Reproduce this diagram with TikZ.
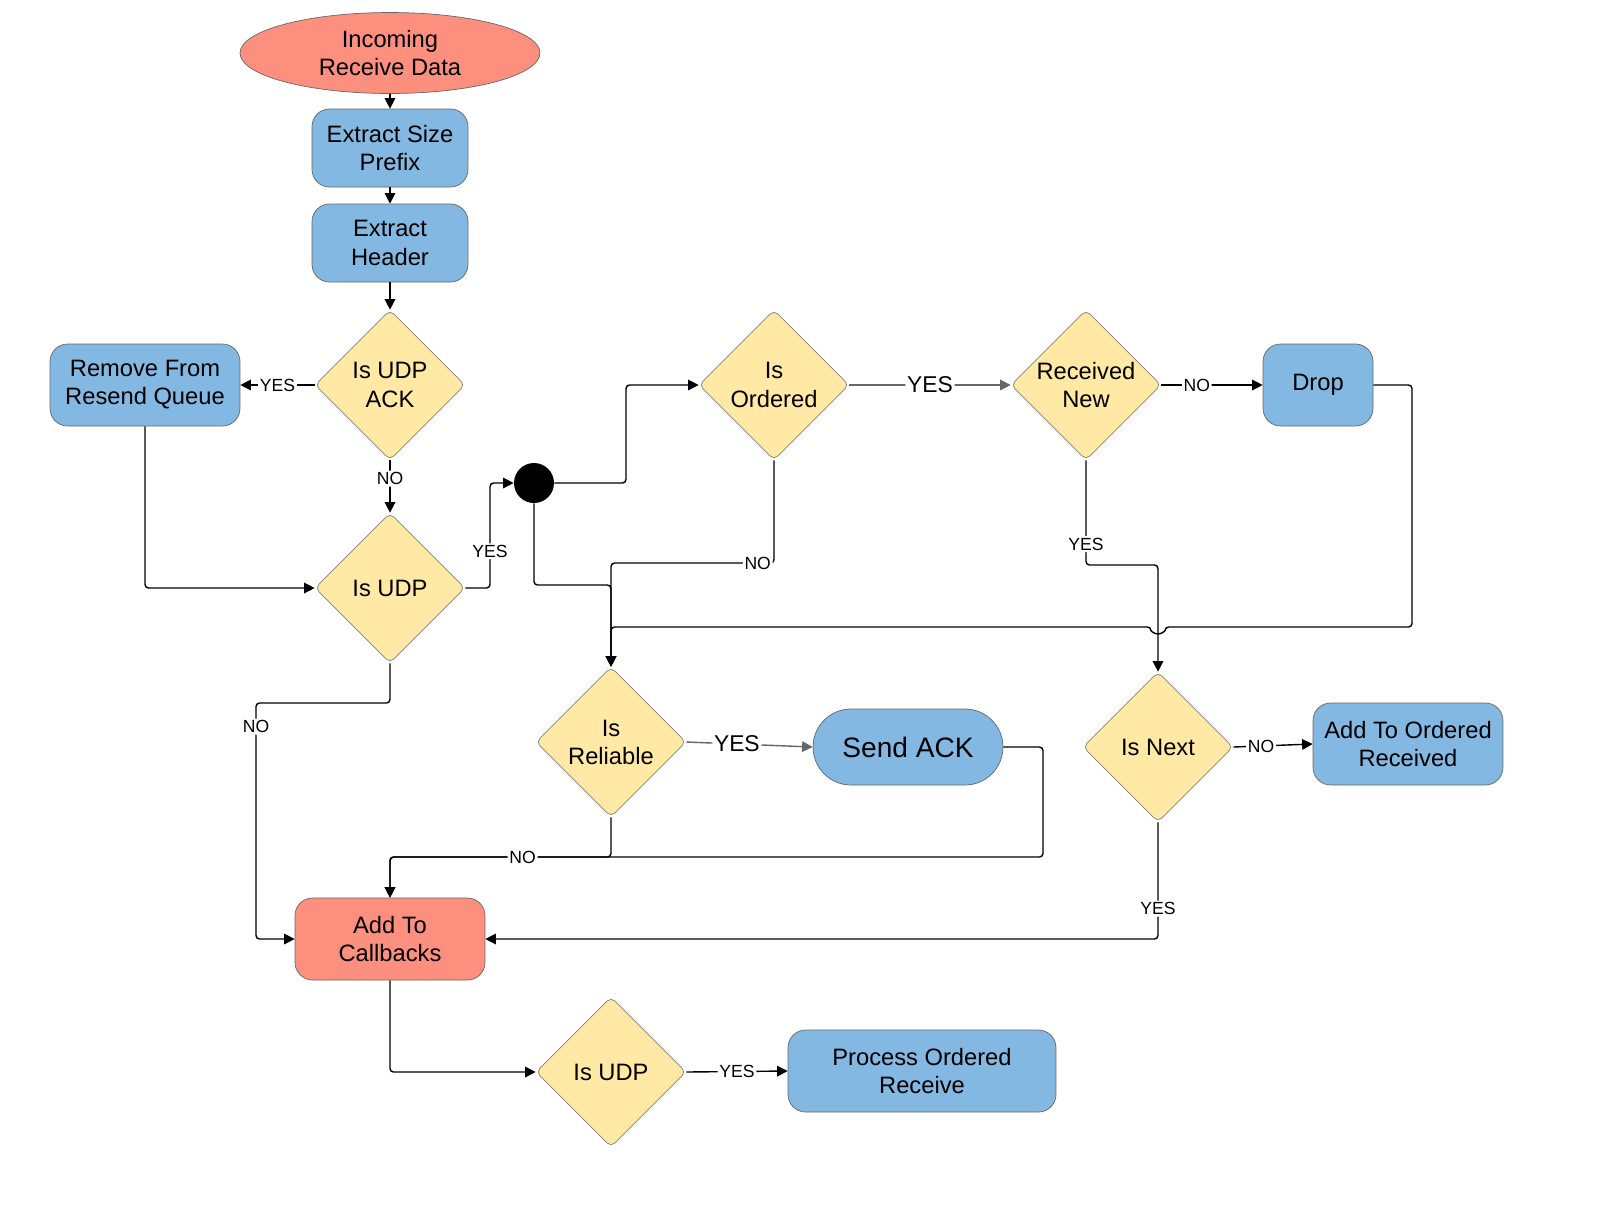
\documentclass[tikz,border=0pt]{standalone}
\usepackage{fontspec}
\setmainfont{Liberation Sans}
\usetikzlibrary{shapes.geometric, arrows.meta}
\definecolor{salmon}{HTML}{FC8F7E}
\definecolor{boxblue}{HTML}{83B8E2}
\definecolor{decyellow}{HTML}{FFE9A5}
\tikzset{
  proc/.style={rectangle, rounded corners=10pt, draw=black!60, fill=boxblue, align=center, font=\fontsize{13.5}{16}\selectfont, minimum height=1.64cm},
  term/.style={ellipse, draw=black!60, fill=salmon, align=center, font=\fontsize{13.5}{16}\selectfont},
  check/.style={diamond, rounded corners=3pt, draw=black!50, fill=decyellow, align=center, minimum width=3cm, minimum height=3cm, inner sep=0pt, font=\fontsize{13.5}{16}\selectfont},
  flow/.style={draw, thick, rounded corners=2pt, -{Triangle[length=6pt,width=6pt]}},
  lbl/.style={fill=white, inner sep=1pt, font=\fontsize{10}{12}\selectfont},
  biglbl/.style={fill=white, inner sep=1pt, font=\fontsize{13}{15}\selectfont}
}
\begin{document}
\begin{tikzpicture}[x=0.02cm, y=-0.02cm]
  \useasboundingbox (0,0) rectangle (1606,1208);
  % nodes
  \node[term, minimum width=6cm, minimum height=1.56cm] (start) at (390,53) {Incoming\\Receive Data};
  \node[proc, minimum width=3.12cm, minimum height=1.56cm] (size) at (390,148) {Extract Size\\Prefix};
  \node[proc, minimum width=3.12cm, minimum height=1.56cm] (header) at (390,243) {Extract\\Header};
  \node[check] (udpack) at (390,385) {Is UDP\\ACK};
  \node[proc, minimum width=3.8cm] (resend) at (145,385) {Remove From\\Resend Queue};
  \node[check] (udp) at (390,588) {Is UDP};
  \node[circle, fill=black, minimum size=0.8cm, inner sep=0pt] (junc) at (534,483) {};
  \node[check] (ordered) at (774,385) {Is\\Ordered};
  \node[check] (recvnew) at (1086,385) {Received\\New};
  \node[proc, minimum width=2.2cm] (drop) at (1318,385) {Drop};
  \node[check] (reliable) at (611,742) {Is\\Reliable};
  \node[proc, rounded corners=0.76cm, minimum width=3.8cm, minimum height=1.52cm, font=\fontsize{16}{18}\selectfont] (ack) at (908,747) {Send ACK};
  \node[check] (next) at (1158,747) {Is Next};
  \node[proc, minimum width=3.8cm] (addord) at (1408,744) {Add To Ordered\\Received};
  \node[proc, fill=salmon, minimum width=3.8cm] (callbacks) at (390,939) {Add To\\Callbacks};
  \node[check] (udp2) at (611,1072) {Is UDP};
  \node[proc, minimum width=5.36cm] (process) at (922,1071) {Process Ordered\\Receive};
  % connectors
  \draw[flow] (start) -- (size);
  \draw[flow] (size) -- (header);
  \draw[flow] (header) -- (udpack);
  \draw[flow] (udpack) -- node[lbl] {YES} (resend);
  \draw[flow] (udpack) -- node[lbl, pos=0.35] {NO} (udp);
  \draw[flow] (resend.south) |- (udp.west);
  \draw[flow] (udp.east) -- (490,588) -- node[lbl, pos=0.35] {YES} (490,483) -- (junc.west);
  \draw[flow] (junc.east) -- (626,483) -- (626,385) -- (ordered.west);
  \draw[flow, draw=black!60] (ordered.east) -- node[biglbl, pos=0.5] {YES} (recvnew.west);
  \draw[flow] (recvnew.east) -- node[lbl, pos=0.35] {NO} (drop.west);
  \draw[flow] (recvnew.south) -- node[lbl, pos=0.8] {YES} (1086,565) -- (1158,565) -- (next.north);
  \draw[flow] (drop.east) -- (1412,385) -- (1412,627) -- (1165,627) arc[start angle=0, end angle=180, radius=7] -- (611,627) -- (reliable.north);
  \draw[flow] (ordered.south) -- (774,563) -- node[lbl, pos=0.1] {NO} (611,563) -- (reliable.north);
  \draw[flow] (junc.south) -- (534,585) -- (611,585) -- (reliable.north);
  \draw[flow, draw=black!60] (reliable.east) -- node[biglbl, pos=0.4] {YES} (ack.west);
  \draw[flow] (ack.east) -- (1043,747) -- (1043,857) -- (390,857) -- (callbacks.north);
  \draw[flow] (reliable.south) -- (611,857) -- node[lbl, pos=0.4] {NO} (390,857) -- (callbacks.north);
  \draw[flow] (udp.south) -- (390,703) -- (256,703) -- node[lbl, pos=0.1] {NO} (256,939) -- (callbacks.west);
  \draw[flow] (next.east) -- node[lbl, pos=0.35] {NO} (addord.west);
  \draw[flow] (next.south) -- node[lbl, pos=0.74] {YES} (1158,939) -- (callbacks.east);
  \draw[flow] (callbacks.south) |- (udp2.west);
  \draw[flow] (udp2.east) -- node[lbl, pos=0.5] {YES} (process.west);
\end{tikzpicture}
\end{document}
